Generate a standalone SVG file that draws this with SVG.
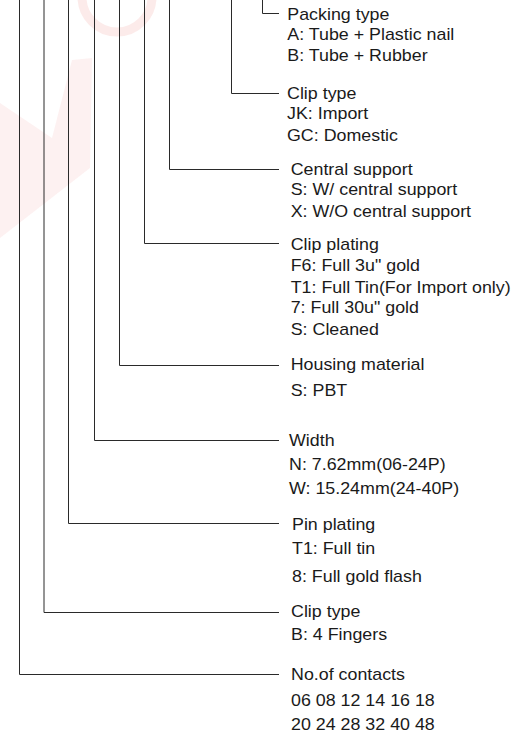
<svg xmlns="http://www.w3.org/2000/svg" width="530" height="739" viewBox="0 0 530 739">
<style>
text{font-family:"Liberation Sans",Arial,sans-serif;font-size:16px;fill:#1a1a1a}
.c{fill:none;stroke:#2a2a2a;stroke-width:1}
.wm{fill:#e53935;fill-opacity:0.07}
.wmr{fill:none;stroke:#e53935;stroke-opacity:0.1;stroke-width:9}
</style>
<rect width="530" height="739" fill="#fff"/>
<g id="watermark">
<circle class="wmr" cx="117" cy="-3" r="35"/>
<path class="wm" d="M0 103 L52 138 L72 60 L92 58 L90 168 L0 238 Z"/>
</g>
<g id="connectors">
<path class="c" d="M262.5 0 V13.5 H279"/>
<path class="c" d="M231.5 0 V93.5 H279"/>
<path class="c" d="M169.5 0 V169.5 H279"/>
<path class="c" d="M144.5 0 V243.5 H279"/>
<path class="c" d="M119.5 0 V365.5 H279"/>
<path class="c" d="M94.5 0 V440.5 H279"/>
<path class="c" d="M68.5 0 V523.5 H279"/>
<path class="c" d="M44 0 V612.5 H279"/>
<path class="c" d="M19.5 0 V674.5 H279"/>
</g>
<g id="packing-type" transform="translate(287.3,0) scale(1.115,1)">
<text x="0" y="20">Packing type</text>
<text x="0" y="40">A: Tube + Plastic nail</text>
<text x="0" y="61">B: Tube + Rubber</text>
</g>
<g id="clip-type-import" transform="translate(287,0) scale(1.115,1)">
<text x="0" y="99.5">Clip type</text>
<text x="0" y="119.5">JK: Import</text>
<text x="0" y="141.5">GC: Domestic</text>
</g>
<g id="central-support" transform="translate(290.7,0) scale(1.115,1)">
<text x="0" y="175.5">Central support</text>
<text x="0" y="195.5">S: W/ central support</text>
<text x="0" y="217">X: W/O central support</text>
</g>
<g id="clip-plating" transform="translate(290.7,0) scale(1.115,1)">
<text x="0" y="250.5">Clip plating</text>
<text x="0" y="271.5">F6: Full 3u" gold</text>
<text x="0" y="293">T1: Full Tin(For Import only)</text>
<text x="0" y="313.5">7: Full 30u" gold</text>
<text x="0" y="335">S: Cleaned</text>
</g>
<g id="housing-material" transform="translate(290.7,0) scale(1.115,1)">
<text x="0" y="370">Housing material</text>
<text x="0" y="396.5">S: PBT</text>
</g>
<g id="width" transform="translate(289,0) scale(1.115,1)">
<text x="0" y="446">Width</text>
<text x="0" y="470">N: 7.62mm(06-24P)</text>
<text x="0" y="494">W: 15.24mm(24-40P)</text>
</g>
<g id="pin-plating" transform="translate(292,0) scale(1.115,1)">
<text x="0" y="530">Pin plating</text>
<text x="0" y="554.5">T1: Full tin</text>
<text x="0" y="582">8: Full gold flash</text>
</g>
<g id="clip-type-fingers" transform="translate(291,0) scale(1.115,1)">
<text x="0" y="617.5">Clip type</text>
<text x="0" y="640.5">B: 4 Fingers</text>
</g>
<g id="no-of-contacts" transform="translate(291,0) scale(1.115,1)">
<text x="0" y="680">No.of contacts</text>
<text x="0" y="706">06 08 12 14 16 18</text>
<text x="0" y="730.5">20 24 28 32 40 48</text>
</g>
</svg>
